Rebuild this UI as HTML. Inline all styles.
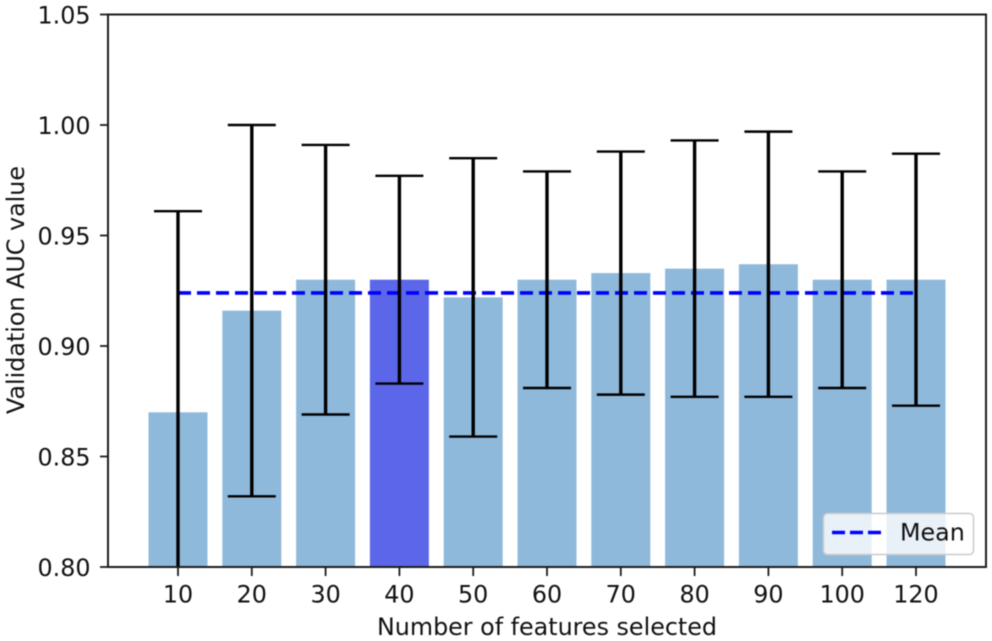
<!DOCTYPE html>
<html>
<head>
<meta charset="utf-8">
<style>
html,body{margin:0;padding:0;background:#fff;width:992px;height:641px;overflow:hidden}
svg{display:block;filter:blur(0.5px)}
text{font-family:"DejaVu Sans","Liberation Sans",sans-serif;fill:#111}
</style>
</head>
<body>
<svg id="chart" width="992" height="641" viewBox="0 0 992 641" xmlns="http://www.w3.org/2000/svg"></svg>
<script>
const categories = ['10','20','30','40','50','60','70','80','90','100','120'];
const aucValues = [0.870,0.916,0.930,0.930,0.922,0.930,0.933,0.935,0.937,0.930,0.930];
const upperValues = [0.961,1.000,0.991,0.977,0.985,0.979,0.988,0.993,0.997,0.979,0.987];
const lowerValues = [0.779,0.832,0.869,0.883,0.859,0.881,0.878,0.877,0.877,0.881,0.873];
const highlightedCategory = '40';
const meanValue = 0.924;
const yTicks = [0.80,0.85,0.90,0.95,1.00,1.05];

const svg = document.getElementById('chart');
const NS = 'http://www.w3.org/2000/svg';
const plot = {left:108, right:986, top:14.5, bottom:567};
const yMin = 0.80, yMax = 1.05;
const firstX = 178, stepX = 73.8, barW = 59;
const labelSize = 23.8;

function xScale(i){ return firstX + stepX * i; }
function yScale(v){ return plot.bottom - (v - yMin) / (yMax - yMin) * (plot.bottom - plot.top); }
function make(tag, attrs, parent){
  const el = document.createElementNS(NS, tag);
  for (const k in attrs) el.setAttribute(k, attrs[k]);
  (parent || svg).appendChild(el);
  return el;
}

// clip region for marks
const defs = make('defs', {});
const clip = make('clipPath', {id:'plot-clip'}, defs);
make('rect', {x:plot.left, y:plot.top, width:plot.right-plot.left, height:plot.bottom-plot.top}, clip);

const marks = make('g', {'clip-path':'url(#plot-clip)'});



// bars
categories.forEach(function(c, i){
  const top = yScale(aucValues[i]);
  const bar = make('rect', {
    x: xScale(i) - barW/2, y: top, width: barW, height: plot.bottom - top,
    fill: c === highlightedCategory ? '#5b67e8' : '#8fb9db'
  }, marks);
  
  
});

// mean line
const meanLine = make('line', {
  x1: xScale(0), x2: xScale(categories.length - 1),
  y1: yScale(meanValue), y2: yScale(meanValue),
  stroke: '#0000ff', 'stroke-width': 3.6, 'stroke-dasharray': '13 6'
}, marks);



// error bars
categories.forEach(function(c, i){
  const g = make('g', {stroke:'#000', fill:'none'}, marks);
  
  
  const x = xScale(i), yU = yScale(upperValues[i]), yL = yScale(lowerValues[i]);
  make('line', {x1:x, x2:x, y1:yU, y2:yL, 'stroke-width':3.4}, g);
  make('line', {x1:x-24, x2:x+24, y1:yU, y2:yU, 'stroke-width':2.4}, g);
  make('line', {x1:x-24, x2:x+24, y1:yL, y2:yL, 'stroke-width':2.4}, g);
});

// frame
const frame = make('rect', {x:plot.left, y:plot.top, width:plot.right-plot.left, height:plot.bottom-plot.top, fill:'none', stroke:'#1c1c1c', 'stroke-width':2});



// y ticks
const yAxis = make('g', {});


yTicks.forEach(function(t){
  const y = yScale(t);
  make('line', {x1:plot.left-8, x2:plot.left, y1:y, y2:y, stroke:'#1c1c1c', 'stroke-width':1.8}, yAxis);
  const lbl = make('text', {x:plot.left-17.5, y:y+9, 'text-anchor':'end', 'font-size':labelSize}, yAxis);
  lbl.textContent = t.toFixed(2);
  
  
});

// x ticks
const xAxis = make('g', {});


categories.forEach(function(c, i){
  const x = xScale(i);
  make('line', {x1:x, x2:x, y1:plot.bottom, y2:plot.bottom+9, stroke:'#1c1c1c', 'stroke-width':1.8}, xAxis);
  const lbl = make('text', {x:x, y:602.5, 'text-anchor':'middle', 'font-size':labelSize}, xAxis);
  lbl.textContent = c;
  
  
});

// axis titles
const xTitle = make('text', {x:547, y:635, 'text-anchor':'middle', 'font-size':labelSize});
xTitle.textContent = 'Number of features selected';



const yTitle = make('text', {x:0, y:0, 'text-anchor':'middle', 'font-size':labelSize, transform:'translate(24,290) rotate(-90)'});
yTitle.textContent = 'Validation AUC value';



// legend
const legend = make('g', {});


make('rect', {x:823.5, y:513.5, width:150, height:41, rx:4, fill:'#fff', 'fill-opacity':0.8, stroke:'#ccc', 'stroke-width':1.5}, legend);
const legendLine = make('line', {x1:832, x2:881, y1:532.5, y2:532.5, stroke:'#0000ff', 'stroke-width':3.6, 'stroke-dasharray':'13 5'}, legend);


const legendText = make('text', {x:900, y:540.5, 'font-size':labelSize}, legend);
legendText.textContent = 'Mean';


</script>
</body>
</html>
